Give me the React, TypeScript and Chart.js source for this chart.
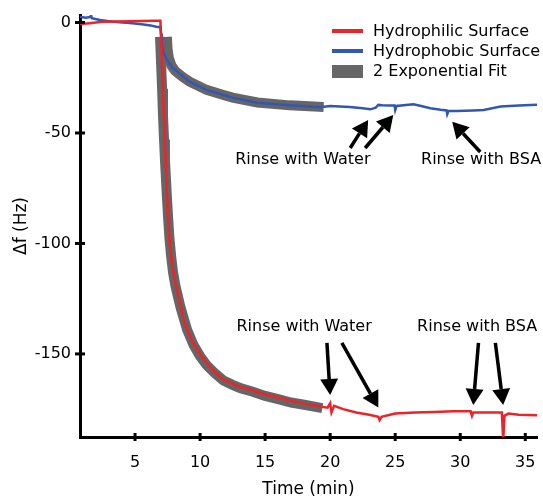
import React, { useEffect, useRef } from "react";
import { Chart, registerables } from "chart.js";

Chart.register(...registerables);

// ---- data ----
const xTicks = [5, 10, 15, 20, 25, 30, 35];
const yTicks = [0, -50, -100, -150];

const redT = [0.77, 1.5, 2.5, 3.5, 4.5, 5.5, 6.5, 6.95, 7.02, 7.08, 7.15, 7.23, 7.3, 7.38, 7.46, 7.54, 7.62, 7.69, 7.8, 7.92, 8.1, 8.3, 8.46, 8.7, 9.0, 9.46, 10.0, 10.5, 11.1, 11.8, 12.5, 13.1, 13.8, 14.85, 15.8, 16.9, 18.0, 19.2, 19.8, 20.0, 20.1, 20.3, 21.0, 22.0, 23.0, 23.7, 23.8, 23.95, 25.0, 26.5, 28.0, 29.5, 30.8, 30.9, 31.0, 32.3, 33.2, 33.3, 33.4, 33.7, 34.5, 35.9];
const redV = [-0.7, -0.3, 0.3, 0.5, 0.6, 0.7, 0.8, 0.8, -10, -20, -33, -44, -56, -67, -78, -89, -96, -101, -107, -112, -118, -123, -127, -134, -139, -145, -150, -154, -158, -161.5, -163.5, -165, -166, -168, -169.5, -171, -172.5, -173.8, -174.3, -172.3, -176.5, -173.5, -175, -176.5, -177.5, -178.5, -180, -178.5, -177, -176.5, -176.3, -176, -176, -178, -176.5, -176.5, -176.5, -189, -178, -177, -177.5, -177.8];

const blueT = [0.77, 1.2, 1.55, 1.6, 1.68, 2.3, 3.0, 3.8, 4.6, 5.5, 6.2, 6.7, 6.95, 7.0, 7.05, 7.15, 7.4, 7.7, 7.92, 8.7, 9.2, 10.5, 11.8, 12.5, 14.4, 16.9, 19.2, 20.0, 21.5, 22.5, 23.1, 23.5, 23.7, 24.0, 24.5, 24.95, 25.0, 25.1, 26.4, 27.0, 27.7, 28.5, 28.95, 29.0, 29.1, 29.7, 31.0, 31.8, 33.1, 34.5, 35.9];
const blueV = [2.6, 2.2, 2.5, 3.8, 2.0, 1.1, 0.6, 0.1, -0.2, -0.8, -1.3, -2.0, -2.0, -5, -9, -13, -16.5, -19, -20.6, -24.5, -26.8, -30.5, -32.8, -34, -36.3, -37.5, -38.3, -37.8, -38.2, -38.8, -39.3, -38.5, -37.3, -37.5, -37.6, -37.6, -39.6, -37.8, -37.0, -37.8, -38.8, -39.5, -39.8, -41.5, -40, -40, -39.8, -39.6, -38, -37.6, -37.2];

const redFitT = [6.92, 7.0, 7.08, 7.15, 7.23, 7.3, 7.38, 7.46, 7.55, 7.65, 7.78, 7.92, 8.1, 8.3, 8.5, 8.75, 9.0, 9.5, 10.0, 10.5, 11.1, 11.8, 12.5, 13.1, 14.0, 15.0, 16.0, 17.0, 18.0, 19.4];
const redFitV = [-6.5, -18, -30, -42, -53, -62, -71, -80, -89, -98, -106, -113, -119, -124, -129, -134, -139, -146, -151, -155, -158.5, -162, -164, -165.5, -167, -169, -170.5, -172, -173, -174.5];

const blueFitT = [7.45, 7.5, 7.6, 7.8, 8.1, 8.7, 9.2, 10.5, 11.8, 12.5, 14.4, 16.9, 19.5];
const blueFitV = [-6.5, -12, -16, -19.5, -22, -24.8, -26.8, -30.5, -32.8, -34, -36.2, -37.5, -38.2];

const seriesNames = ["Hydrophilic Surface", "Hydrophobic Surface", "2 Exponential Fit"];
const seriesColors = ["#ec2429", "#3356b3", "#666666"];

const noteTexts = ["Rinse with Water", "Rinse with BSA", "Rinse with Water", "Rinse with BSA"];
const noteT = [17.9, 31.6, 18.0, 31.3];
const noteV = [-62.2, -62.2, -137.8, -137.8];

const arrowFromT = [21.54, 22.69, 31.54, 19.75, 20.9, 31.4, 32.7];
const arrowFromV = [-56.8, -56.8, -58.6, -145, -145, -145, -145];
const arrowToT = [22.92, 24.85, 29.38, 20.0, 23.7, 31.0, 33.3];
const arrowToV = [-44.1, -41.9, -44.9, -168.6, -174.3, -173.1, -173.1];

const toXY = (t: number[], v: number[]) => t.map((tt, i) => ({ x: tt, y: v[i] }));

const FONT = "'DejaVu Sans', sans-serif";

const overlay = {
  id: "overlay",
  afterDraw(chart: any) {
    const { ctx, chartArea } = chart;
    const xs = chart.scales.x;
    const ys = chart.scales.y;
    ctx.save();
    // crossing tick marks
    ctx.strokeStyle = "#000";
    ctx.lineWidth = 3;
    xTicks.forEach((v) => {
      const px = xs.getPixelForValue(v);
      ctx.beginPath();
      ctx.moveTo(px, chartArea.bottom - 4);
      ctx.lineTo(px, chartArea.bottom + 4);
      ctx.stroke();
    });
    yTicks.forEach((v) => {
      const py = ys.getPixelForValue(v);
      ctx.beginPath();
      ctx.moveTo(chartArea.left - 5, py);
      ctx.lineTo(chartArea.left + 5, py);
      ctx.stroke();
    });
    // axis titles
    ctx.fillStyle = "#000";
    ctx.font = `17px ${FONT}`;
    ctx.textAlign = "center";
    ctx.textBaseline = "middle";
    ctx.fillText("Time (min)", (chartArea.left + chartArea.right) / 2, 490);
    ctx.save();
    ctx.translate(22, (chartArea.top + chartArea.bottom) / 2);
    ctx.rotate(-Math.PI / 2);
    ctx.fillText("Δf (Hz)", 0, 0);
    ctx.restore();

    // notes
    ctx.font = `16px ${FONT}`;
    noteTexts.forEach((s, i) => {
      ctx.fillText(s, xs.getPixelForValue(noteT[i]), ys.getPixelForValue(noteV[i]));
    });
    // arrows
    ctx.strokeStyle = "#000";
    ctx.fillStyle = "#000";
    arrowFromT.forEach((_, i) => {
      const x0 = xs.getPixelForValue(arrowFromT[i]);
      const y0 = ys.getPixelForValue(arrowFromV[i]);
      const x1 = xs.getPixelForValue(arrowToT[i]);
      const y1 = ys.getPixelForValue(arrowToV[i]);
      const ang = Math.atan2(y1 - y0, x1 - x0);
      const hl = 16, hw = 9;
      const bx = x1 - hl * Math.cos(ang);
      const by = y1 - hl * Math.sin(ang);
      ctx.lineWidth = 3.5;
      ctx.beginPath();
      ctx.moveTo(x0, y0);
      ctx.lineTo(bx, by);
      ctx.stroke();
      ctx.beginPath();
      ctx.moveTo(x1, y1);
      ctx.lineTo(bx + hw * Math.sin(ang), by - hw * Math.cos(ang));
      ctx.lineTo(bx - hw * Math.sin(ang), by + hw * Math.cos(ang));
      ctx.closePath();
      ctx.fill();
    });

    // legend
    const lx = chartArea.right - 205;
    const ly = chartArea.top + 16;
    ctx.textAlign = "left";
    ctx.font = `16px ${FONT}`;
    seriesNames.forEach((name, i) => {
      const cy = ly + i * 20;
      if (i < 2) {
        ctx.strokeStyle = seriesColors[i];
        ctx.lineWidth = 4;
        ctx.beginPath();
        ctx.moveTo(lx, cy);
        ctx.lineTo(lx + 31, cy);
        ctx.stroke();
      } else {
        ctx.fillStyle = seriesColors[i];
        ctx.fillRect(lx, cy - 6, 31, 13);
      }
      ctx.fillStyle = "#000";
      ctx.fillText(name, lx + 41, cy + 1);
    });
    ctx.restore();
  },
};

export default function App() {
  const ref = useRef<HTMLCanvasElement | null>(null);
  useEffect(() => {
    document.body.style.margin = "0";
    if (!ref.current) return;
    const chart = new Chart(ref.current, {
      type: "line",
      data: {
        datasets: [
          { label: seriesNames[0], data: toXY(redT, redV), borderColor: seriesColors[0], borderWidth: 2.5, pointRadius: 0, order: 1 },
          { label: seriesNames[1], data: toXY(blueT, blueV), borderColor: seriesColors[1], borderWidth: 2.5, pointRadius: 0, order: 1 },
          { label: seriesNames[2], data: toXY(redFitT, redFitV), borderColor: seriesColors[2], borderWidth: 10, pointRadius: 0, order: 2, borderCapStyle: "butt" },
          { label: seriesNames[2] + " b", data: toXY(blueFitT, blueFitV), borderColor: seriesColors[2], borderWidth: 10, pointRadius: 0, order: 2, borderCapStyle: "butt" },
        ],
      },
      options: {
        responsive: false,
        animation: false,
        devicePixelRatio: 1,
        layout: { padding: { top: 15, right: 6, left: 0, bottom: 0 } },
        plugins: { legend: { display: false }, tooltip: { enabled: false } },
        scales: {
          x: {
            type: "linear",
            min: 0.77,
            max: 35.9,
            afterBuildTicks: (s: any) => { s.ticks = xTicks.map((v) => ({ value: v })); },
            afterFit: (s: any) => { s.height = 62; s.paddingLeft = 0; s.paddingRight = 0; },
            grid: { display: true, drawOnChartArea: false, drawTicks: false },
            border: { display: true, color: "#000", width: 3 },
            ticks: { color: "#000", font: { family: FONT, size: 16 }, padding: 16, maxRotation: 0 },
          },
          y: {
            type: "linear",
            min: -187.6,
            max: 3.4,
            afterBuildTicks: (s: any) => { s.ticks = yTicks.map((v) => ({ value: v })); },
            afterFit: (s: any) => { s.width = 80; s.paddingTop = 0; s.paddingBottom = 0; },
            grid: { display: true, drawOnChartArea: false, drawTicks: false },
            border: { display: true, color: "#000", width: 3 },
            ticks: { color: "#000", font: { family: FONT, size: 16 }, padding: 9 },
          },
        },
      },
      plugins: [overlay],
    } as any);
    return () => chart.destroy();
  }, []);
  return (
    <div style={{ width: 543, height: 499 }}>
      <canvas ref={ref} width={543} height={499} style={{ width: 543, height: 499, display: "block" }} />
    </div>
  );
}
